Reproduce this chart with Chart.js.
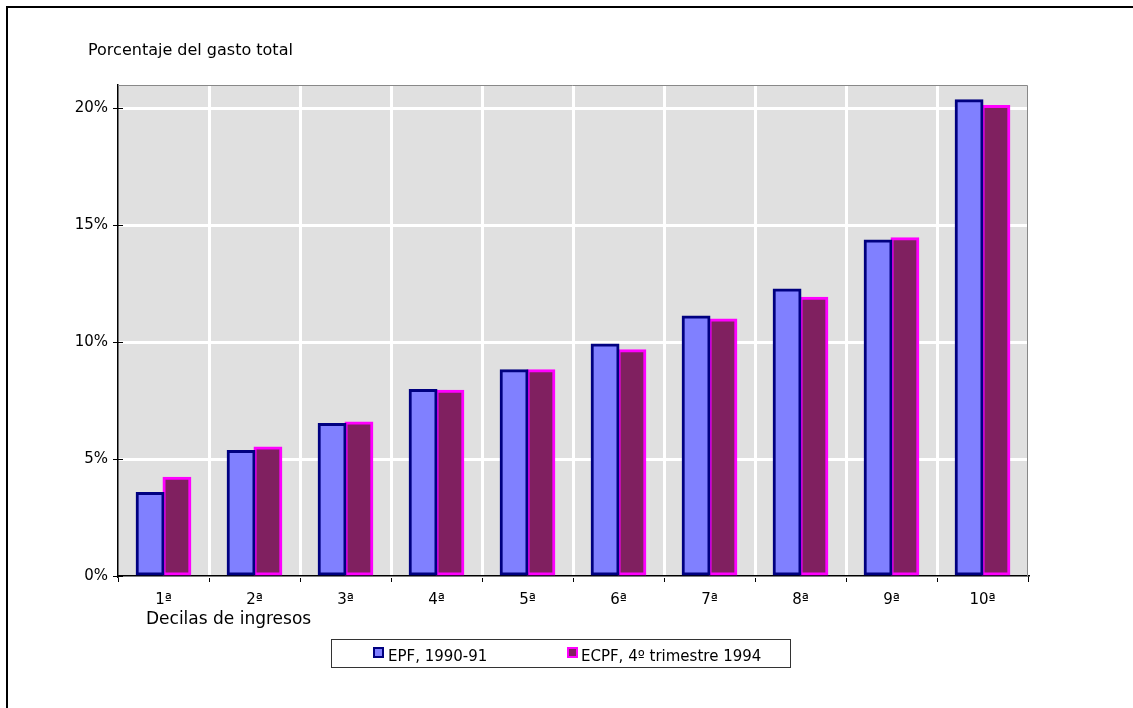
<!DOCTYPE html>
<html>
<head>
<meta charset="utf-8">
<script src="https://cdn.jsdelivr.net/npm/chart.js@4"></script>
<style>
  body { margin: 0; background: #fff; }
  #chart { display: block; }
</style>
</head>
<body>
<canvas id="chart" width="1133" height="708"></canvas>
<script>
// deciles de ingresos
const decilas = ["1ª", "2ª", "3ª", "4ª", "5ª", "6ª", "7ª", "8ª", "9ª", "10ª"];
// % of total spending
const epf = [3.55, 5.35, 6.5, 7.95, 8.8, 9.9, 11.1, 12.25, 14.35, 20.35];
const ecpf = [4.2, 5.5, 6.57, 7.92, 8.8, 9.65, 10.97, 11.9, 14.45, 20.1];
const yTicks = [0, 5, 10, 15, 20];

const FONT = "'DejaVu Sans', sans-serif";

// gray plot area, frame, titles and the boxed legend
const decor = {
  id: "decor",
  beforeDraw(chart) {
    const { ctx, chartArea: a } = chart;
    ctx.save();
    ctx.fillStyle = "#e0e0e0";
    ctx.fillRect(a.left, a.top, a.right - a.left, a.bottom - a.top);
    ctx.restore();
  },
  afterDraw(chart) {
    const { ctx, chartArea: a } = chart;
    ctx.save();
    // outer frame
    ctx.strokeStyle = "#000";
    ctx.lineWidth = 2;
    ctx.beginPath();
    ctx.moveTo(7, 708);
    ctx.lineTo(7, 7);
    ctx.lineTo(1133, 7);
    ctx.stroke();

    // plot border top/right
    ctx.strokeStyle = "#888";
    ctx.lineWidth = 1;
    ctx.beginPath();
    ctx.moveTo(a.left, a.top + 0.5);
    ctx.lineTo(a.right - 0.5, a.top + 0.5);
    ctx.lineTo(a.right - 0.5, a.bottom);
    ctx.stroke();

    // inner half of y ticks
    const y = chart.scales.y;
    ctx.strokeStyle = "#000";
    ctx.lineWidth = 1;
    yTicks.forEach((v) => {
      const py = Math.round(y.getPixelForValue(v)) + 0.5;
      ctx.beginPath();
      ctx.moveTo(a.left, py);
      ctx.lineTo(a.left + 5, py);
      ctx.stroke();
    });

    // texts
    ctx.fillStyle = "#000";
    ctx.textBaseline = "middle";
    ctx.textAlign = "left";
    ctx.font = "16px " + FONT;
    ctx.fillText("Porcentaje del gasto total", 88, 51);
    ctx.font = "17px " + FONT;
    ctx.fillText("Decilas de ingresos", 146, 620);

    // legend box
    ctx.strokeStyle = "#333";
    ctx.lineWidth = 1;
    ctx.strokeRect(331.5, 639.5, 459, 28);
    const xs = [[373, 388], [567, 581]];
    chart.data.datasets.forEach((ds, i) => {
      ctx.fillStyle = ds.backgroundColor;
      ctx.fillRect(xs[i][0], 647, 11, 11);
      ctx.strokeStyle = ds.borderColor;
      ctx.lineWidth = 2;
      ctx.strokeRect(xs[i][0] + 1, 648, 9, 9);
      ctx.fillStyle = "#000";
      ctx.font = "15px " + FONT;
      ctx.fillText(ds.label, xs[i][1], 657);
    });
    ctx.restore();
  },
};

const ctx = document.getElementById("chart").getContext("2d");

new Chart(ctx, {
  type: "bar",
  data: {
    labels: decilas,
    datasets: [
      {
        label: "EPF, 1990-91",
        data: epf,
        backgroundColor: "#8080ff",
        borderColor: "#000080",
        borderWidth: 3,
        borderSkipped: false,
        inflateAmount: 1,
      },
      {
        label: "ECPF, 4º trimestre 1994",
        data: ecpf,
        backgroundColor: "#802060",
        borderColor: "#ff00ff",
        borderWidth: 3,
        borderSkipped: false,
        inflateAmount: 1,
      },
    ],
  },
  options: {
    responsive: false,
    animation: false,
    devicePixelRatio: 1,
    layout: {
      padding: { left: 68, right: 105, top: 85, bottom: 102 },
    },
    datasets: {
      bar: {
        categoryPercentage: 0.59,
        barPercentage: 1,
      },
    },
    plugins: {
      legend: { display: false },
      tooltip: { enabled: false },
    },
    scales: {
      x: {
        afterFit(scale) {
          scale.height = 30;
        },
        grid: {
          offset: true,
          color: (c) =>
            c.index === 0 || c.index === decilas.length ? "rgba(0,0,0,0)" : "#fff",
          lineWidth: 3,
          tickColor: "#000",
          tickWidth: 1,
          tickLength: 6,
        },
        border: { color: "#000", width: 1.5 },
        ticks: {
          color: "#000",
          font: { family: FONT, size: 15 },
          padding: 9,
        },
      },
      y: {
        min: 0,
        max: 21,
        afterFit(scale) {
          scale.width = 50;
        },
        afterBuildTicks(scale) {
          scale.ticks = yTicks.map((v) => ({ value: v }));
        },
        grid: {
          color: "#fff",
          lineWidth: 3,
          tickColor: "#000",
          tickWidth: 1,
          tickLength: 5,
        },
        border: { color: "#000", width: 1.5 },
        ticks: {
          color: "#000",
          font: { family: FONT, size: 15 },
          padding: 5,
          callback: (v) => v + "%",
        },
      },
    },
  },
  plugins: [decor],
});
</script>
</body>
</html>
